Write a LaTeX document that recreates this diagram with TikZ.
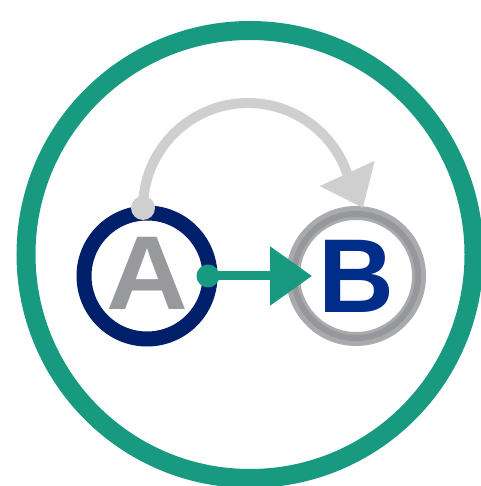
\documentclass[tikz,border=0pt]{standalone}
\usepackage{fontspec}
\setmainfont{Liberation Sans}
\usetikzlibrary{arrows.meta}

\definecolor{teal}{HTML}{189A80}
\definecolor{navy}{HTML}{001F6B}
\definecolor{bnavy}{HTML}{002C8A}
\definecolor{agray}{HTML}{98999D}
\definecolor{ringgray}{HTML}{A9AAAD}
\definecolor{ringdark}{HTML}{96979B}
\definecolor{arcgray}{HTML}{CFCFCF}

\begin{document}
\begin{tikzpicture}[
  x=1pt, y=1pt,
  letter/.style={font=\fontsize{105}{105}\selectfont\bfseries},
  ringnode/.style={circle,inner sep=0pt,outer sep=0pt,minimum size=126pt,line width=15pt},
  dotnode/.style={circle,inner sep=0pt,outer sep=0pt,minimum size=24pt},
  greenarr/.style={teal,line width=9pt,-{Triangle[length=42pt,width=57pt]}},
  grayarr/.style={arcgray,line width=10pt,-{Triangle[length=38pt,width=58pt]}}
]
\useasboundingbox (0,0) rectangle (480,486);

% outer ring
\node[circle,draw=teal,line width=19pt,inner sep=0pt,minimum size=448pt] (frame) at (250,231.5) {};

% the two states
\node[ringnode,draw=navy,letter,text=agray] (A) at (147,210) {\raisebox{5pt}{\scalebox{1.08}[1]{A}}};
\node[ringnode,draw=ringgray,line width=14pt,letter,text=bnavy] (B) at (356,210) {B};
\draw[ringdark,line width=6pt] (B.center) circle[radius=62pt];

% dots on A
\node[dotnode,fill=arcgray] (topdot) at ([shift={(-4,5)}]A.north) {};
\node[dotnode,fill=teal,minimum size=23pt] (sidedot) at ([xshift=-2pt]A.east) {};

% connectors
\draw[grayarr] (topdot.center) arc[start angle=180,end angle=19,radius=105]
  -- ([shift={(7,5)}]B.north);
\draw[greenarr] (sidedot.center) -- ([xshift=19pt]B.west);
\end{tikzpicture}
\end{document}
